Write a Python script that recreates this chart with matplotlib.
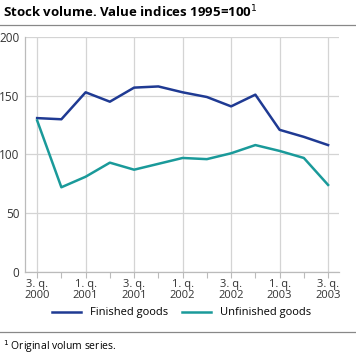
import matplotlib.pyplot as plt
import numpy as np

plt.rcParams['font.family'] = ['Open Sans', 'DejaVu Sans']

# Kvartaler fra 3. kv. 2000 til 3. kv. 2003
quarters = ["3. q.\n2000", "4. q.\n2000", "1. q.\n2001", "2. q.\n2001", "3. q.\n2001",
            "4. q.\n2001", "1. q.\n2002", "2. q.\n2002", "3. q.\n2002", "4. q.\n2002",
            "1. q.\n2003", "2. q.\n2003", "3. q.\n2003"]
finished = [131, 130, 153, 145, 157, 158, 153, 149, 141, 151, 121, 115, 108]
unfinished = [129, 72, 81, 93, 87, 92, 97, 96, 101, 108, 103, 97, 74]

blue = "#1f3a93"
teal = "#1a9a9a"
grid = "#d4d4d4"

fig = plt.figure(figsize=(3.56, 3.55), dpi=100)
ax = fig.add_axes([25 / 356, 1 - 271.7 / 355, 314 / 356, 234.5 / 355])

x = np.arange(len(quarters))
ax.plot(x, finished, color=blue, lw=1.8, label="Finished goods")
ax.plot(x, unfinished, color=teal, lw=1.8, label="Unfinished goods")

ax.set_xlim(-0.5, 12.45)
ax.set_ylim(0, 200)
ax.set_yticks([0, 50, 100, 150, 200])
ax.set_xticks(x[::2])
ax.set_xticklabels(quarters[::2], fontsize=8, color="#333333", linespacing=1.1)
ax.set_xticks(x[1::2], minor=True)
ax.tick_params(axis="x", which="both", length=4, color="#bbbbbb", width=0.8, pad=1)
ax.tick_params(axis="y", length=0, labelsize=8.5, labelcolor="#333333", pad=4)
ax.grid(True, color=grid, lw=0.9)
ax.set_axisbelow(True)
for s in ["top", "right"]:
    ax.spines[s].set_visible(False)
for s in ["left", "bottom"]:
    ax.spines[s].set_color("#bbbbbb")
    ax.spines[s].set_linewidth(0.9)

fig.legend(loc="center", bbox_to_anchor=(0.51, 1 - 313 / 355), ncol=2, frameon=False,
           fontsize=8, handlelength=2.6, columnspacing=1.3, handletextpad=0.8)

# Tittel og linjer
fig.text(3 / 356, 1 - 12 / 355, "Stock volume. Value indices 1995=100$^1$", fontsize=9.5,
         fontweight="bold", va="center", ha="left")
fig.add_artist(plt.Line2D([0, 1], [1 - 25 / 355, 1 - 25 / 355], color="#888888", lw=0.9))
fig.add_artist(plt.Line2D([0, 1], [1 - 332 / 355, 1 - 332 / 355], color="#888888", lw=0.9))
fig.text(3 / 356, 1 - 347 / 355, "$^1$ Original volum series.", fontsize=7.5, va="center", ha="left")

fig.savefig("out.png", dpi=100)
